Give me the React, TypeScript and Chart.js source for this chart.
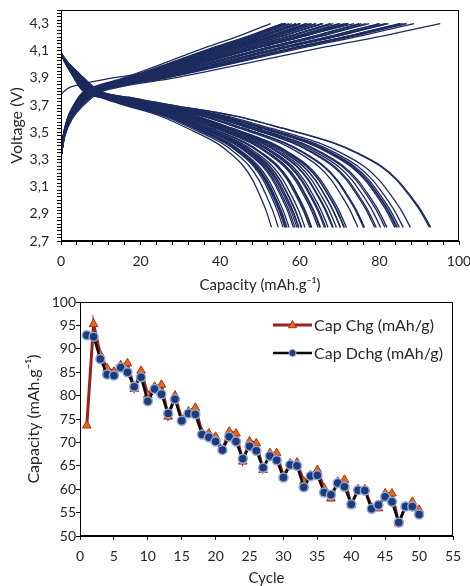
import React, { useEffect, useRef } from 'react';
import { Chart, registerables } from 'chart.js';
Chart.register(...registerables);

const FONT = "Lato, 'Open Sans', sans-serif";
const TEXT = '#262626';

// ---------- Bottom chart data ----------
const cycles = [1,2,3,4,5,6,7,8,9,10,11,12,13,14,15,16,17,18,19,20,21,22,23,24,25,26,27,28,29,30,31,32,33,34,35,36,37,38,39,40,41,42,43,44,45,46,47,48,49,50];
const capChg = [73.6,95.3,88.7,85.8,85.1,86.5,86.9,81.4,85.3,80.1,81.9,82.3,75.5,80.0,74.9,76.6,77.4,72.1,71.9,71.2,68.4,72.3,71.9,65.9,70.2,69.8,64.1,67.7,67.7,62.7,65.5,65.7,61.6,63.0,64.1,60.2,58.0,61.6,62.0,56.6,60.0,60.0,56.1,55.9,59.1,59.1,52.7,56.4,57.3,55.6];
const capDchg = [92.9,92.6,87.8,84.5,84.3,86.0,85.0,81.9,83.9,78.8,81.4,80.3,76.2,79.2,74.6,76.2,76.0,71.7,71.1,70.2,68.4,71.2,70.2,66.5,69.2,68.2,64.6,67.1,66.2,62.5,65.2,65.0,60.4,62.8,63.0,59.3,58.8,61.3,60.5,56.8,59.8,59.7,55.8,56.6,58.4,57.3,52.9,56.3,56.3,54.6];
const seriesLabels = ['Cap Chg (mAh/g)', 'Cap Dchg (mAh/g)'];
const cycleTicks = [0,5,10,15,20,25,30,35,40,45,50,55];
const capTicks = [50,55,60,65,70,75,80,85,90,95,100];

// ---------- Top chart data (curve shapes vs. fraction of each cycle's capacity) ----------
const chgFrac = [0, 0.01, 0.03, 0.06, 0.1, 0.15, 0.3, 0.46, 0.7, 0.85, 1];
const chgVolt = [3.32, 3.47, 3.6, 3.7, 3.79, 3.83, 3.9, 3.99, 4.13, 4.21, 4.3];
const chgFirstVolt = [3.78, 3.8, 3.83, 3.85, 3.87, 3.89, 3.94, 4.02, 4.14, 4.22, 4.3];
const dchgFrac = [0, 0.02, 0.05, 0.1, 0.2, 0.3, 0.47, 0.6, 0.74, 0.8, 0.867, 0.91, 0.946, 0.975, 1];
const dchgVolt = [4.08, 4.01, 3.93, 3.81, 3.75, 3.7, 3.62, 3.53, 3.42, 3.35, 3.25, 3.15, 3.03, 2.92, 2.8];
const capAxisLabels = [0, 20, 40, 60, 80, 100];
const capAxisMinor = 4;
const voltAxisLabels = [2.7, 2.9, 3.1, 3.3, 3.5, 3.7, 3.9, 4.1, 4.3];
const voltAxisMinor = 0.025;
const voltMin = 2.7, voltMax = 4.4;

const CURVE = '#1d2b5e';

const framePlugin = {
  id: 'frame',
  afterDatasetsDraw(chart: any) {
    const { ctx, chartArea: a } = chart;
    ctx.save();
    ctx.strokeStyle = '#000';
    ctx.lineWidth = 1;
    const l = Math.round(a.left) + 0.5, t = Math.round(a.top) + 0.5;
    const r = Math.round(a.right) - 0.5, b = Math.round(a.bottom) - 0.5;
    ctx.strokeRect(l, t, r - l, b - t);
    ctx.restore();
  },
};

const legendPlugin = {
  id: 'insideLegend',
  afterDraw(chart: any) {
    const { ctx, chartArea: a } = chart;
    chart.data.datasets.forEach((ds: any, i: number) => {
      const y = a.top + 23 + i * 28;
      const x0 = a.right - 180, x1 = a.right - 141;
      const xm = (x0 + x1) / 2;
      ctx.save();
      ctx.strokeStyle = ds.borderColor;
      ctx.lineWidth = ds.borderWidth;
      ctx.beginPath();
      ctx.moveTo(x0, y);
      ctx.lineTo(x1, y);
      ctx.stroke();
      ctx.fillStyle = ds.pointBackgroundColor;
      ctx.strokeStyle = ds.pointBorderColor;
      ctx.lineWidth = 1;
      ctx.beginPath();
      if (ds.pointStyle === 'triangle') {
        const r = 4.5;
        ctx.moveTo(xm, y - r);
        ctx.lineTo(xm + r * 0.9, y + r * 0.6);
        ctx.lineTo(xm - r * 0.9, y + r * 0.6);
        ctx.closePath();
      } else {
        ctx.arc(xm, y, 3.5, 0, Math.PI * 2);
      }
      ctx.fill();
      ctx.stroke();
      ctx.fillStyle = TEXT;
      ctx.font = `16px ${FONT}`;
      ctx.textBaseline = 'middle';
      ctx.textAlign = 'left';
      ctx.fillText(ds.label, x1 + 2, y + 1);
      ctx.restore();
    });
  },
};

function buildCurves() {
  const sets: any[] = [];
  capDchg.forEach((C) => {
    sets.push({
      data: dchgFrac.map((f, i) => ({ x: f * C, y: dchgVolt[i] })),
    });
  });
  capChg.forEach((C, k) => {
    const v = k === 0 ? chgFirstVolt : chgVolt;
    sets.push({
      data: chgFrac.map((f, i) => ({ x: f * C, y: v[i] })),
    });
  });
  return sets.map((s) => ({
    ...s,
    showLine: true,
    borderColor: CURVE,
    borderWidth: 1.3,
    pointRadius: 0,
    cubicInterpolationMode: 'monotone',
    fill: false,
  }));
}

const isOn = (v: number, list: number[]) => list.some((t) => Math.abs(t - v) < 1e-6);

const fixX = (h: number) => (s: any) => { s.height = h; s.paddingLeft = 0; s.paddingRight = 0; };
const fixY = (w: number) => (s: any) => { s.width = w; s.paddingTop = 0; s.paddingBottom = 0; };

export default function App() {
  const topRef = useRef<HTMLCanvasElement>(null);
  const botRef = useRef<HTMLCanvasElement>(null);

  useEffect(() => {
    const topChart = new Chart(topRef.current!, {
      type: 'scatter',
      data: { datasets: buildCurves() },
      plugins: [framePlugin],
      options: {
        responsive: false,
        animation: false,
        devicePixelRatio: 1,
        layout: { padding: { left: 0, right: 11, top: 10, bottom: 0 } },
        plugins: { legend: { display: false }, tooltip: { enabled: false } },
        scales: {
          x: {
            type: 'linear',
            min: 0,
            max: 100,
            afterBuildTicks: (s: any) => {
              const t: any[] = [];
              for (let v = 0; v <= 100 + 1e-9; v += capAxisMinor) t.push({ value: v });
              s.ticks = t;
            },
            afterFit: fixX(52),
            grid: { drawOnChartArea: false, tickLength: 4, color: '#000', tickColor: '#000' },
            border: { color: '#000', width: 1 },
            ticks: {
              autoSkip: false,
              maxRotation: 0,
              padding: 8,
              color: TEXT,
              font: { family: FONT, size: 14 },
              callback: (v: any) => (isOn(Number(v), capAxisLabels) ? String(v) : ''),
            },
            title: {
              display: true,
              text: 'Capacity (mAh.g⁻¹)',
              color: TEXT,
              font: { family: FONT, size: 15, lineHeight: 1.1 },
              padding: { top: 0, bottom: 0 },
            },
          },
          y: {
            type: 'linear',
            min: voltMin,
            max: voltMax,
            afterBuildTicks: (s: any) => {
              const t: any[] = [];
              const n = Math.round((voltMax - voltMin) / voltAxisMinor);
              for (let i = 0; i <= n; i++) t.push({ value: +(voltMin + i * voltAxisMinor).toFixed(4) });
              s.ticks = t;
            },
            afterFit: fixY(61),
            grid: { drawOnChartArea: false, tickLength: 4, color: '#000', tickColor: '#000' },
            border: { color: '#000', width: 1 },
            ticks: {
              autoSkip: false,
              padding: 8,
              color: TEXT,
              font: { family: FONT, size: 14 },
              callback: (v: any) => (isOn(Number(v), voltAxisLabels) ? Number(v).toFixed(1).replace('.', ',') : ''),
            },
            title: {
              display: true,
              text: 'Voltage (V)',
              color: TEXT,
              font: { family: FONT, size: 16 },
              padding: { top: 7, bottom: 0 },
            },
          },
        },
      } as any,
    });

    const botChart = new Chart(botRef.current!, {
      type: 'scatter',
      data: {
        datasets: [
          {
            label: seriesLabels[0],
            data: cycles.map((c, i) => ({ x: c, y: capChg[i] })),
            showLine: true,
            borderColor: '#9c1f1a',
            borderWidth: 3,
            pointStyle: 'triangle',
            pointRadius: 5,
            pointBackgroundColor: '#e4691f',
            pointBorderColor: '#b8300f',
            pointBorderWidth: 1,
            order: 2,
          },
          {
            label: seriesLabels[1],
            data: cycles.map((c, i) => ({ x: c, y: capDchg[i] })),
            showLine: true,
            borderColor: '#0a0a0a',
            borderWidth: 2.5,
            pointStyle: 'circle',
            pointRadius: 4.5,
            pointBackgroundColor: '#1f3a78',
            pointBorderColor: '#8eaadb',
            pointBorderWidth: 1.5,
            order: 1,
          },
        ],
      },
      plugins: [framePlugin, legendPlugin],
      options: {
        responsive: false,
        animation: false,
        devicePixelRatio: 1,
        layout: { padding: { left: 0, right: 17, top: 9, bottom: 0 } },
        plugins: { legend: { display: false }, tooltip: { enabled: false } },
        scales: {
          x: {
            type: 'linear',
            min: 0,
            max: 55,
            afterBuildTicks: (s: any) => { s.ticks = cycleTicks.map((v) => ({ value: v })); },
            afterFit: fixX(50),
            grid: { drawOnChartArea: false, tickLength: 4, color: '#000', tickColor: '#000' },
            border: { color: '#000', width: 1 },
            ticks: { autoSkip: false, maxRotation: 0, padding: 8, color: TEXT, font: { family: FONT, size: 14 } },
            title: {
              display: true,
              text: 'Cycle',
              color: TEXT,
              font: { family: FONT, size: 15, lineHeight: 1 },
              padding: { top: 0, bottom: 0 },
            },
          },
          y: {
            type: 'linear',
            min: 50,
            max: 100,
            afterBuildTicks: (s: any) => { s.ticks = capTicks.map((v) => ({ value: v })); },
            afterFit: fixY(80),
            grid: { drawOnChartArea: false, tickLength: 4, color: '#000', tickColor: '#000' },
            border: { color: '#000', width: 1 },
            ticks: { autoSkip: false, padding: 0, color: TEXT, font: { family: FONT, size: 14 } },
            title: {
              display: true,
              text: 'Capacity (mAh.g⁻¹)',
              color: TEXT,
              font: { family: FONT, size: 16 },
              padding: { top: 24, bottom: 0 },
            },
          },
        },
      } as any,
    });

    return () => {
      topChart.destroy();
      botChart.destroy();
    };
  }, []);

  return (
    <div style={{ position: 'absolute', left: 0, top: 0, width: 470, height: 586, overflow: 'hidden', background: '#fff' }}>
      <canvas ref={topRef} width={470} height={293} style={{ position: 'absolute', left: 0, top: 0 }} />
      <canvas ref={botRef} width={470} height={293} style={{ position: 'absolute', left: 0, top: 293 }} />
    </div>
  );
}
